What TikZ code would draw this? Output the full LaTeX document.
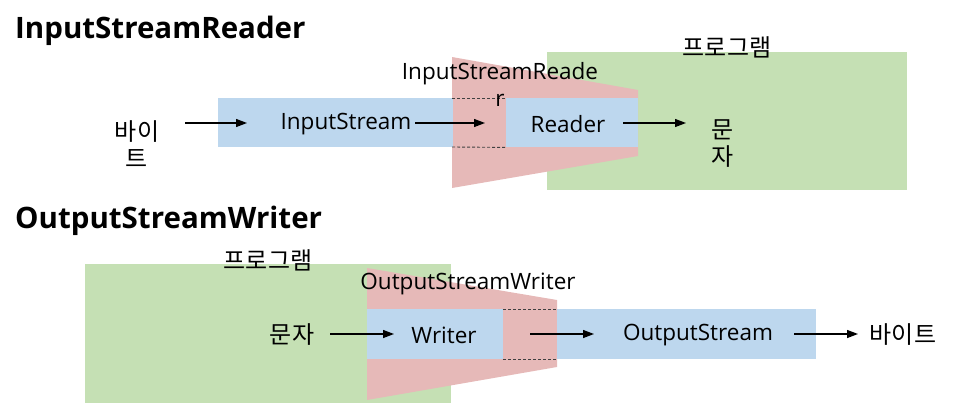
\documentclass[tikz,border=0pt]{standalone}
\usepackage{fontspec}
\setmainfont{Open Sans}
\newfontfamily\kr{Noto Sans CJK KR}
\usetikzlibrary{arrows.meta}
\definecolor{cblue}{HTML}{BDD7EE}
\definecolor{cgreen}{HTML}{C5E0B4}
\definecolor{cred}{HTML}{E6B9B8}
\definecolor{cdash}{HTML}{404040}
\begin{document}
\begin{tikzpicture}[x=1pt,y=-1pt,
  greenbox/.style={fill=cgreen, draw=none, anchor=north west, inner sep=0pt},
  bluebox/.style={fill=cblue, draw=none, anchor=north west, inner sep=0pt},
  lbl/.style={font=\fontsize{22.5}{27}\selectfont, inner sep=0pt, align=center},
  krl/.style={font=\kr\fontsize{24}{27}\selectfont, inner sep=0pt, align=center},
  ttl/.style={font=\bfseries\fontsize{29.5}{32}\selectfont, inner sep=0pt, anchor=west},
  arr/.style={-{Triangle[length=11pt,width=8pt]}, line width=1.3pt},
  dsh/.style={dashed, draw=cdash, line width=0.9pt, dash pattern=on 3pt off 2pt}]
\useasboundingbox (0,0) rectangle (963,415);

% ---------- top: InputStreamReader ----------
\node[ttl] (t1) at (15,31) {InputStreamReader};
\node[greenbox, minimum width=360, minimum height=138] (g1) at (547,52) {};
\fill[cred] (452,57) -- (638,90) -- (638,156) -- (452,188) -- cycle;
\node[bluebox, minimum width=235, minimum height=49] (isb) at (218,98) {};
\node[bluebox, minimum width=132, minimum height=49] (rdb) at (506,98) {};
\draw[dsh] (452,98) -- (rdb.north west);
\draw[dsh] (452,147) -- (rdb.south west);

\node[krl] (p1) at (727,47) {프로그램};
\node[lbl] (isr) at (500,84) {InputStreamReade\\r};
\node[krl] (by1) at (137,144) {바이\\트};
\node[lbl] (is) at (346,124) {InputStream};
\node[lbl] (rd) at (568,124) {Reader};
\node[krl] (ch1) at (723,144) {문\\자};

\coordinate (a1s) at (185,123); \coordinate (a1e) at (247,123);
\coordinate (a2s) at (415,123); \coordinate (a2e) at (485,123);
\coordinate (a3s) at (623,123); \coordinate (a3e) at (686,123);
\draw[arr] (a1s) -- (a1e);
\draw[arr] (a2s) -- (a2e);
\draw[arr] (a3s) -- (a3e);

% ---------- bottom: OutputStreamWriter ----------
\node[ttl] (t2) at (15,221) {OutputStreamWriter};
\node[greenbox, minimum width=366, minimum height=139] (g2) at (85,264) {};
\fill[cred] (367,268) -- (557,300) -- (557,367) -- (367,400) -- cycle;
\node[bluebox, minimum width=136, minimum height=50] (wrb) at (367,309) {};
\node[bluebox, minimum width=259, minimum height=50] (osb) at (557,309) {};
\draw[dsh] (wrb.north east) -- (osb.north west);
\draw[dsh] (wrb.south east) -- (osb.south west);

\node[krl] (p2) at (268,260) {프로그램};
\node[lbl] (osw) at (468,284) {OutputStreamWriter};
\node[krl] (ch2) at (292,335) {문자};
\node[lbl] (wr) at (444,335) {Writer};
\node[lbl] (os) at (698,335) {OutputStream};
\node[krl] (by2) at (903,335) {바이트};

\coordinate (b1s) at (330,334); \coordinate (b1e) at (394,334);
\coordinate (b2s) at (530,334); \coordinate (b2e) at (594,334);
\coordinate (b3s) at (794,334); \coordinate (b3e) at (858,334);
\draw[arr] (b1s) -- (b1e);
\draw[arr] (b2s) -- (b2e);
\draw[arr] (b3s) -- (b3e);
\end{tikzpicture}
\end{document}
